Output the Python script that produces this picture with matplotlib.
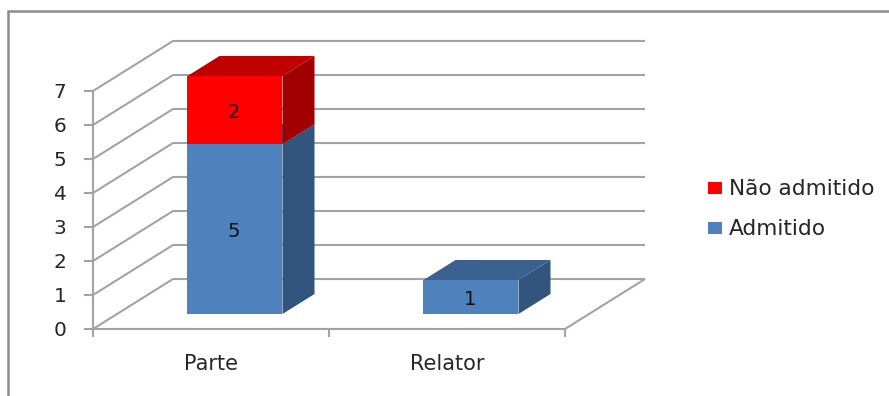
import matplotlib
matplotlib.use("Agg")
import matplotlib.pyplot as plt
from matplotlib.patches import Polygon, Rectangle

categories = ["Parte", "Relator"]
admitido = [5, 1]
nao_admitido = [2, 0]
y_ticks = [0, 1, 2, 3, 4, 5, 6, 7]

W, H = 889, 396
GRAY = "#a3a3a3"
TXT = "#262626"

# depth of the fake 3D box, in axis units
depth_x = 80 / 236
depth_y = 50 / 34
bar_width = 95 / 236

plt.rcParams["font.family"] = ["DejaVu Sans"]

fig = plt.figure(figsize=(W / 100, H / 100), dpi=100)

# chart border, only top and left stay inside the frame
bg = fig.add_axes([0, 0, 1, 1])
bg.set_xlim(0, W)
bg.set_ylim(H, 0)
bg.axis("off")
bg.plot([8, 8, W], [H, 11, 11], color="#8c8c8c", lw=1.8, solid_joinstyle="miter")

ax = fig.add_axes([93 / W, 1 - 329 / H, 472 / W, 238 / H])
ax.set_xlim(0, 2)
ax.set_ylim(0, 7)
ax.patch.set_visible(False)
for s in ax.spines.values():
    s.set_visible(False)
ax.set_xticks([])
ax.set_yticks([])


def line(xs, ys, z=1):
    ax.plot(xs, ys, color=GRAY, lw=1.5, clip_on=False, zorder=z, solid_capstyle="butt")


# walls and floor
for v in y_ticks:
    line([0, depth_x, 2 + depth_x], [v, v + depth_y, v + depth_y])
    line([-9 / 236, 0], [v, v], z=4)
line([0, 0], [0, 7], z=4)
line([0, 2, 2 + depth_x], [0, 0, depth_y], z=4)
for i in range(len(categories) + 1):
    line([i, i], [0, -8 / 34], z=4)


def box(center, bottom, height, front, side, top, z):
    # front face sits 30% into the depth, back face at 70%
    x0 = center - bar_width / 2 + 0.3 * depth_x
    x1 = x0 + bar_width
    y0 = bottom + 0.3 * depth_y
    y1 = y0 + height
    dx = 0.4 * depth_x
    dy = 0.4 * depth_y
    ax.add_patch(Polygon([(x0, y0), (x1, y0), (x1, y1), (x0, y1)], fc=front, ec="none", zorder=z, clip_on=False))
    ax.add_patch(Polygon([(x1, y0), (x1 + dx, y0 + dy), (x1 + dx, y1 + dy), (x1, y1)], fc=side, ec="none", zorder=z, clip_on=False))
    ax.add_patch(Polygon([(x0, y1), (x1, y1), (x1 + dx, y1 + dy), (x0 + dx, y1 + dy)], fc=top, ec="none", zorder=z, clip_on=False))
    ax.text((x0 + x1) / 2 - 1 / 236, (y0 + y1) / 2 - 0.5 / 34, str(height), ha="center", va="center_baseline",
            fontsize=14, color="#111111", zorder=z + 1)


for i in range(len(categories)):
    center = i + 0.5
    box(center, 0, admitido[i], "#4f81bd", "#31557f", "#3a618f", 5)
    if nao_admitido[i] > 0:
        box(center, admitido[i], nao_admitido[i], "#ff0000", "#a00000", "#c00000", 6)
    ax.text(center, -33.5 / 34, categories[i], ha="center", va="center_baseline", fontsize=15, color=TXT, clip_on=False)

for v in y_ticks:
    ax.text(-33 / 236, v, str(v), ha="center", va="center_baseline", fontsize=14.5, color=TXT)

# legend
bg.add_patch(Rectangle((708, 182), 14, 12, fc="#ff0000", ec="none"))
bg.add_patch(Rectangle((708, 222), 14, 12, fc="#4f81bd", ec="none"))
bg.text(729, 187, "Não admitido", va="center_baseline", ha="left", fontsize=15.6, color=TXT)
bg.text(729, 227, "Admitido", va="center_baseline", ha="left", fontsize=15.6, color=TXT)

fig.savefig("out.png", dpi=100)
